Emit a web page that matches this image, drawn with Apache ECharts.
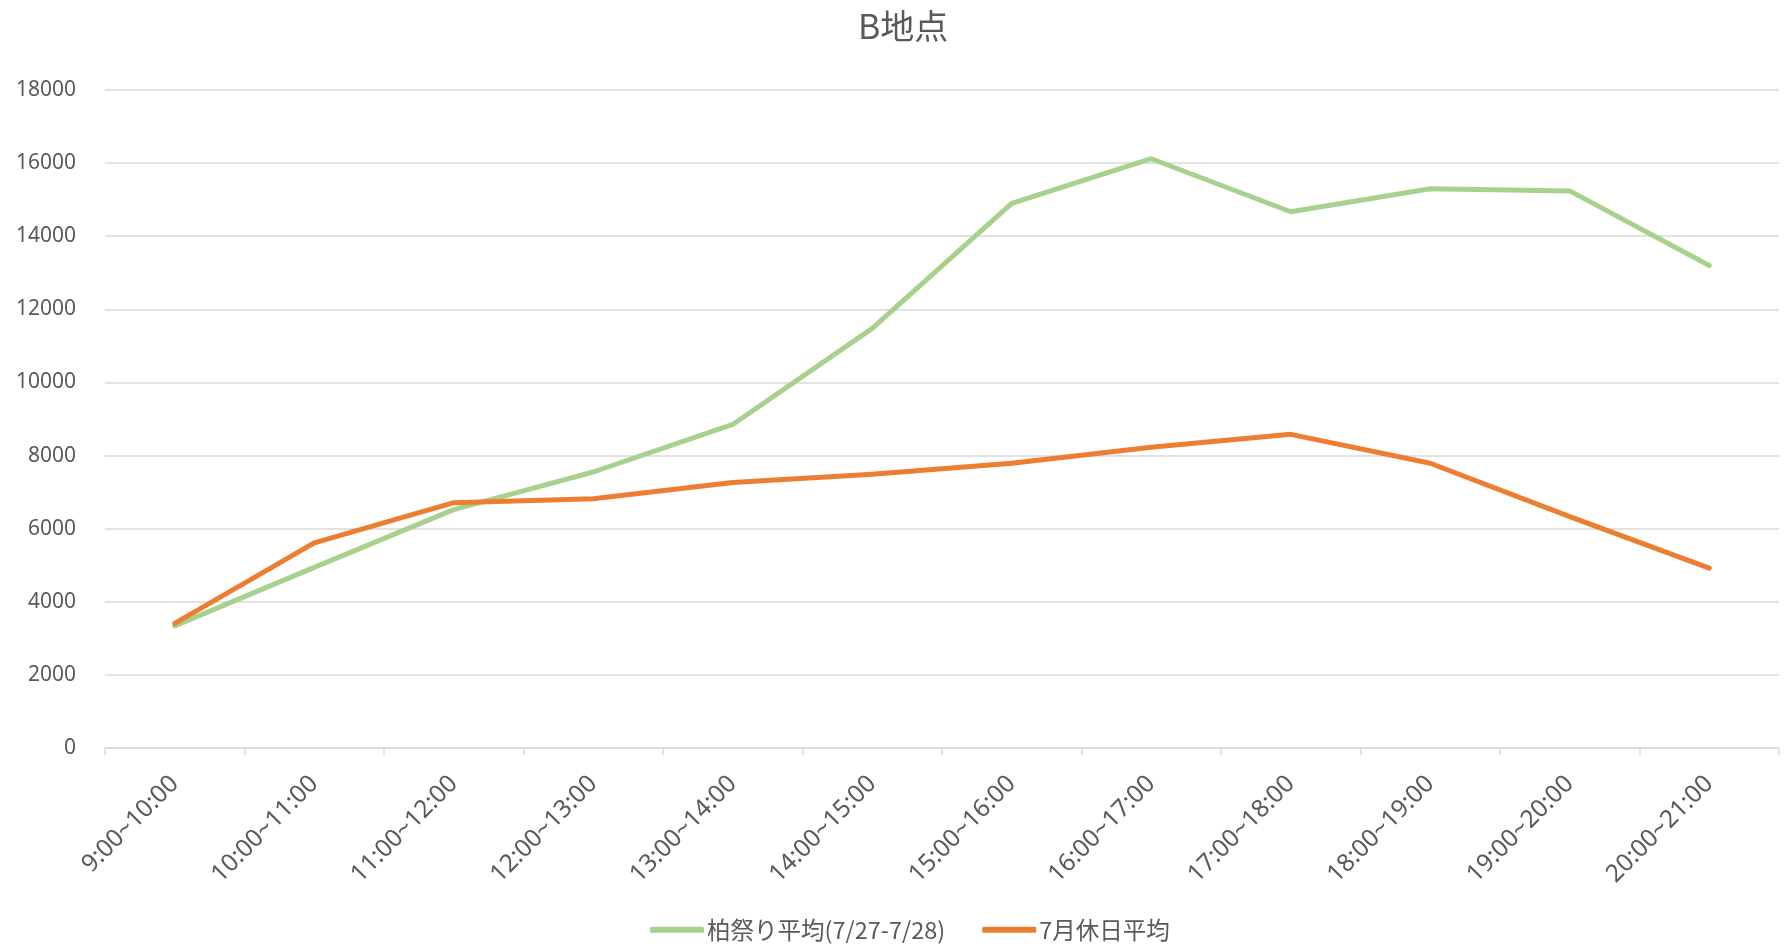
<!DOCTYPE html>
<html lang="ja">
<head>
    <meta charset="UTF-8">
    <title>B地点</title>
    <style>
        html, body {
            margin: 0;
            width: 100%;
            height: 100%;
            background: #fff;
        }
        #chart {
            width: 1787px;
            height: 952px;
        }
    </style>
</head>
<body>
<div id="chart"></div>
<script src="https://cdn.jsdelivr.net/npm/echarts@6/dist/echarts.min.js"></script>
<script type="text/javascript">
    // 時間帯
    var categories = ['9:00~10:00', '10:00~11:00', '11:00~12:00', '12:00~13:00', '13:00~14:00', '14:00~15:00',
        '15:00~16:00', '16:00~17:00', '17:00~18:00', '18:00~19:00', '19:00~20:00', '20:00~21:00'];
    var seriesNames = ['柏祭り平均(7/27-7/28)', '7月休日平均'];
    var festival = [3340, 4940, 6520, 7550, 8850, 11480, 14900, 16120, 14670, 15300, 15240, 13200];
    var holiday = [3410, 5610, 6710, 6820, 7260, 7490, 7790, 8230, 8580, 7790, 6330, 4920];
    var yTicks = [0, 2000, 4000, 6000, 8000, 10000, 12000, 14000, 16000, 18000];

    var textColor = '#595959';
    var gridColor = '#d9d9d9';
    var font = '"Noto Sans", "Noto Sans CJK JP", sans-serif';
    var cjkFont = '"Noto Sans CJK JP", sans-serif';

    var myChart = echarts.init(document.getElementById('chart'));
    var option = {
        backgroundColor: '#fff',
        animation: false,
        title: {
            text: 'B地点',
            left: 853,
            top: 4,
            textStyle: {
                color: textColor,
                fontSize: 34,
                fontWeight: 'normal',
                fontFamily: cjkFont
            }
        },
        legend: {
            data: seriesNames,
            top: 913,
            left: 645,
            itemWidth: 54,
            itemHeight: 6,
            itemGap: 37,
            icon: 'roundRect',
            textStyle: {
                color: textColor,
                fontSize: 23.5,
                padding: [0, 0, 0, -2],
                fontFamily: cjkFont
            }
        },
        grid: {
            left: 105,
            right: 8,
            top: 90,
            bottom: 204,
            containLabel: false
        },
        xAxis: {
            type: 'category',
            data: categories,
            boundaryGap: true,
            axisLine: {lineStyle: {color: gridColor, width: 1.5}},
            axisTick: {show: true, length: 7, lineStyle: {color: gridColor, width: 1.5}},
            axisLabel: {
                rotate: 45,
                interval: 0,
                margin: 32,
                color: textColor,
                fontSize: 24.5,
                fontFamily: font
            }
        },
        yAxis: {
            type: 'value',
            min: yTicks[0],
            max: yTicks[yTicks.length - 1],
            interval: yTicks[1] - yTicks[0],
            axisLine: {show: false},
            axisTick: {show: false},
            splitLine: {lineStyle: {color: gridColor, width: 1.5}},
            axisLabel: {
                margin: 29,
                color: textColor,
                fontSize: 21,
                fontFamily: font,
                formatter: function (v) { return String(v); }
            }
        },
        series: [
            {
                name: seriesNames[0],
                type: 'line',
                data: festival,
                symbol: 'none',
                itemStyle: {color: '#A9D18E'},
                lineStyle: {color: '#A9D18E', width: 5, cap: 'round', join: 'round'}
            },
            {
                name: seriesNames[1],
                type: 'line',
                data: holiday,
                symbol: 'none',
                itemStyle: {color: '#ED7D31'},
                lineStyle: {color: '#ED7D31', width: 5, cap: 'round', join: 'round'}
            }
        ]
    };

    if (option && typeof option === "object") {
        myChart.setOption(option, true);
    }
</script>
</body>
</html>
